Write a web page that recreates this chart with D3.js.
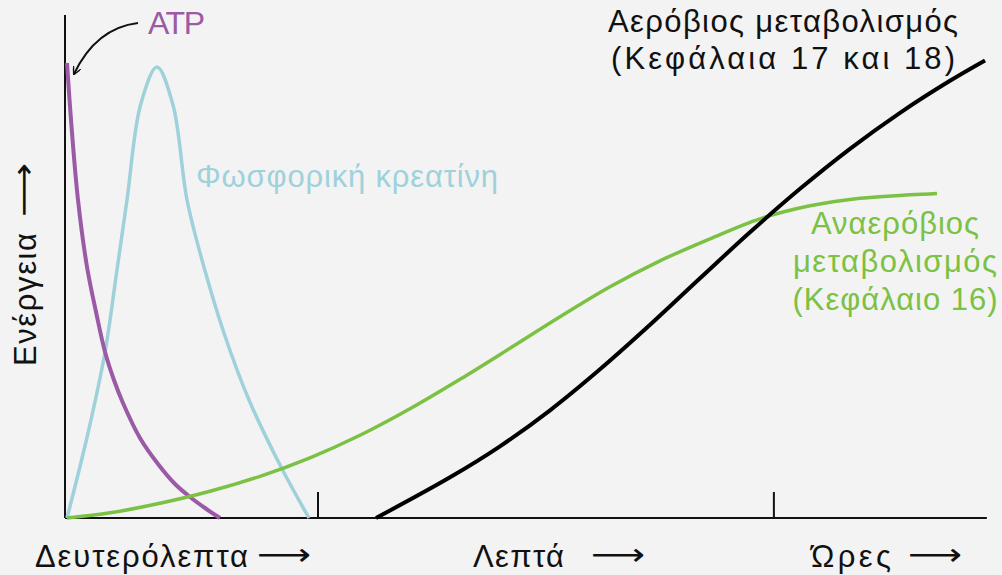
<!DOCTYPE html>
<html>
<head>
<meta charset="utf-8">
<script src="https://cdn.jsdelivr.net/npm/d3@7"></script>
<style>
    html, body { margin: 0; padding: 0; background: #f3f3f3; }
    svg { display: block; }
    text { font-family: "Liberation Sans", Arial, sans-serif; }
</style>
</head>
<body>
<script>
// time axis in arbitrary units (0..100), energy 0..100
var atpTime = [0.22, 0.66, 1.43, 2.42, 3.41, 4.40, 5.38, 6.37, 8.24, 10.22, 12.09, 13.74, 15.38, 17.03],
    atpEnergy = [91, 79.6, 63.6, 50.2, 41.2, 33.2, 27.6, 23, 16, 10.8, 6.8, 4.2, 2, 0];

var pcrTime = [0.22, 2.53, 4.40, 5.71, 6.81, 8.30, 10.11, 11.87, 13.41, 15.27, 17.47, 20.22, 23.74, 26.81],
    pcrEnergy = [0, 17, 33.2, 49.6, 63.6, 82.6, 90.2, 82.6, 63.6, 50.2, 37, 23.6, 10.2, 0];

var anaerobicTime = [0.22, 4.95, 10.44, 15.93, 21.43, 26.92, 32.42, 37.91, 43.41, 48.90, 54.40, 59.89, 65.38, 70.88, 76.37, 81.87, 87.36, 92.86, 95.82],
    anaerobicEnergy = [0, 1.04, 2.94, 5.34, 8.34, 12.04, 16.54, 21.84, 27.74, 33.94, 40.24, 46.24, 51.44, 55.84, 59.84, 62.44, 63.94, 64.64, 64.92];

var aerobicTime = [34.18, 42.31, 47.80, 53.30, 58.79, 64.29, 69.78, 75.27, 80.77, 86.26, 91.76, 97.25, 101.10],
    aerobicEnergy = [0, 8.14, 14.34, 21.54, 29.74, 38.64, 47.94, 57.14, 65.84, 73.84, 81.04, 87.44, 91.5];

var tickTimes = [27.8, 77.9],
    timeLabels = ["Δευτερόλεπτα", "Λεπτά", "Ώρες"],
    aerobicLabel = ["Αερόβιος μεταβολισμός", "(Κεφάλαια 17 και 18)"],
    anaerobicLabel = ["Αναερόβιος", "μεταβολισμός", "(Κεφάλαιο 16)"];

var width = 1002,
    height = 575,
    purple = "#9b5aa6",
    blue = "#9fd1db",
    green = "#7bc143",
    fs = 31;

var svg = d3.select("body").append("svg")
    .attr("width", width)
    .attr("height", height);

var x = d3.scaleLinear().domain([0, 100]).range([65, 975]),
    y = d3.scaleLinear().domain([0, 100]).range([518, 18]);

function zip(xs, ys) {
    return xs.map(function (t, i) {
        return [t, ys[i]];
    });
}

var line = d3.line()
    .x(function (d) { return x(d[0]); })
    .y(function (d) { return y(d[1]); })
    .curve(d3.curveCatmullRom.alpha(0.5));

// axes
svg.append("line")
    .attr("x1", x(0)).attr("x2", x(0))
    .attr("y1", y(0)).attr("y2", y(100.6))
    .attr("stroke", "#111").attr("stroke-width", 2);
svg.append("line")
    .attr("x1", x(0)).attr("x2", x(101.3))
    .attr("y1", y(0)).attr("y2", y(0))
    .attr("stroke", "#111").attr("stroke-width", 2);
svg.selectAll(".tick").data(tickTimes).enter().append("line")
    .attr("class", "tick")
    .attr("x1", function (d) { return x(d); })
    .attr("x2", function (d) { return x(d); })
    .attr("y1", y(0)).attr("y2", y(5.2))
    .attr("stroke", "#111").attr("stroke-width", 2);

// curves
var series = [
    {data: zip(pcrTime, pcrEnergy), color: blue, w: 3.5},
    {data: zip(atpTime, atpEnergy), color: purple, w: 4},
    {data: zip(anaerobicTime, anaerobicEnergy), color: green, w: 3.5},
    {data: zip(aerobicTime, aerobicEnergy), color: "#000", w: 4}
];
svg.selectAll(".curve").data(series).enter().append("path")
    .attr("class", "curve")
    .attr("d", function (d) { return line(d.data); })
    .attr("fill", "none")
    .attr("stroke", function (d) { return d.color; })
    .attr("stroke-width", function (d) { return d.w; });

// ATP pointer
svg.append("defs").append("marker")
    .attr("id", "head")
    .attr("viewBox", "0 0 10 10")
    .attr("refX", 9).attr("refY", 5)
    .attr("markerWidth", 8).attr("markerHeight", 8)
    .attr("markerUnits", "userSpaceOnUse")
    .attr("orient", "auto")
    .append("path")
    .attr("d", "M0,0L10,5L0,10")
    .attr("fill", "none").attr("stroke", "#111").attr("stroke-width", 1.8);
svg.append("path")
    .attr("d", "M138,23Q96,28 74,74")
    .attr("fill", "none").attr("stroke", "#111").attr("stroke-width", 2)
    .attr("marker-end", "url(#head)");

function label(txt, px, py, len, color, anchor) {
    return svg.append("text")
        .attr("x", px).attr("y", py)
        .attr("font-size", fs).attr("fill", color)
        .attr("text-anchor", anchor || "start")
        .attr("textLength", len).attr("lengthAdjust", "spacing")
        .text(txt);
}

label("ATP", 148, 34, 57, purple).attr("font-size", fs + 1);
label("Φωσφορική κρεατίνη", 196, 187, 302, blue);

var aerLen = [350, 344];
aerobicLabel.forEach(function (d, i) {
    label(d, 783, 32 + i * 37, aerLen[i], "#111", "middle");
});

var anaerLen = [168, 204, 205];
anaerobicLabel.forEach(function (d, i) {
    label(d, 895, 234 + i * 38, anaerLen[i], green, "middle");
});

// time labels under the axis
var labelX = [35, 473, 811],
    labelLen = [213, 91, 80],
    arrowX = [257, 591, 908];
timeLabels.forEach(function (d, i) {
    label(d, labelX[i], 567, labelLen[i], "#111");
});
svg.selectAll(".tarrow").data(timeLabels).enter().append("text")
    .attr("class", "tarrow")
    .attr("x", function (d, i) { return arrowX[i]; })
    .attr("y", 565)
    .attr("font-size", fs).attr("fill", "#111")
    .style("font-family", "DejaVu Sans")
    .attr("textLength", 54).attr("lengthAdjust", "spacingAndGlyphs")
    .text("⟶");

// energy label
var ylab = svg.append("g").attr("transform", "translate(36,366) rotate(-90)");
ylab.append("text")
    .attr("x", 0).attr("y", 0)
    .attr("font-size", fs).attr("fill", "#111")
    .attr("textLength", 133).attr("lengthAdjust", "spacing")
    .text("Ενέργεια");
ylab.append("text")
    .attr("x", 149).attr("y", -2)
    .attr("font-size", fs).attr("fill", "#111")
    .style("font-family", "DejaVu Sans")
    .attr("textLength", 54).attr("lengthAdjust", "spacingAndGlyphs")
    .text("⟶");
</script>
</body>
</html>
